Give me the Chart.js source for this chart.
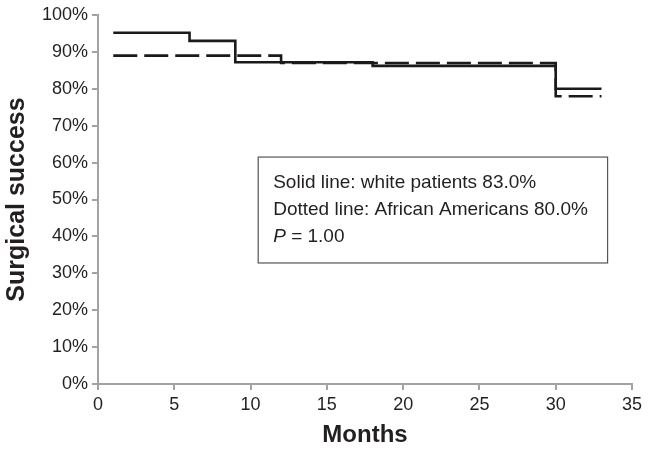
<!DOCTYPE html>
<html>
<head>
<script src="https://cdn.jsdelivr.net/npm/chart.js"></script>
<style>
  body { margin: 0; background: #fff; }
  #wrap { width: 652px; height: 453px; }
</style>
</head>
<body>
<div id="wrap"><canvas id="km" width="652" height="453"></canvas></div>
<script>
// Kaplan-Meier style steps (months, % success)
const solidMonths = [1, 6, 9, 18, 30, 33];
const solidValues = [95.2, 93.0, 87.2, 86.2, 80.0, 80.0];
const dashedMonths = [1, 12, 30, 33];
const dashedValues = [89.0, 87.0, 78.0, 78.0];
const xTicks = [0, 5, 10, 15, 20, 25, 30, 35];
const legendLines = [
  ['Solid line: white patients 83.0%'],
  ['Dotted line: African Americans 80.0%'],
  ['P', ' = 1.00']
];

const axisGrey = '#a3a3a3';
const textColor = '#231f20';
const fontFamily = '"Liberation Sans", Arial, sans-serif';
const toPoints = (xs, ys) => xs.map((x, i) => ({ x: x, y: ys[i] }));

// draws the note box inside the plot
const noteBox = {
  id: 'noteBox',
  afterDatasetsDraw(chart) {
    const ctx = chart.ctx;
    const x = chart.scales.x, y = chart.scales.y;
    const left = x.getPixelForValue(10.5), right = x.getPixelForValue(33.4);
    const top = y.getPixelForValue(61.5), bottom = y.getPixelForValue(32.8);
    ctx.save();
    ctx.strokeStyle = '#555';
    ctx.lineWidth = 1.2;
    ctx.strokeRect(left, top, right - left, bottom - top);
    ctx.fillStyle = textColor;
    ctx.textBaseline = 'middle';
    legendLines.forEach((parts, i) => {
      let tx = left + 15;
      const ty = top + 26 + i * 27;
      parts.forEach((p, j) => {
        ctx.font = (i === 2 && j === 0 ? 'italic ' : '') + '19px ' + fontFamily;
        ctx.fillText(p, tx, ty);
        tx += ctx.measureText(p).width;
      });
    });
    ctx.restore();
  }
};

new Chart(document.getElementById('km'), {
  type: 'line',
  data: {
    datasets: [
      {
        label: 'White patients',
        data: toPoints(solidMonths, solidValues),
        stepped: 'before',
        borderColor: '#1a1a1a',
        borderWidth: 2.6,
        pointRadius: 0,
        fill: false
      },
      {
        label: 'African Americans',
        data: toPoints(dashedMonths, dashedValues),
        stepped: 'before',
        borderColor: '#1a1a1a',
        borderWidth: 2.6,
        borderDash: [24, 7],
        pointRadius: 0,
        fill: false
      }
    ]
  },
  options: {
    responsive: false,
    animation: false,
    layout: { padding: { top: 15, right: 20, left: 0, bottom: 0 } },
    plugins: { legend: { display: false }, tooltip: { enabled: false } },
    scales: {
      x: {
        type: 'linear',
        min: 0,
        max: 35,
        afterBuildTicks: s => { s.ticks = xTicks.map(v => ({ value: v })); },
        afterFit: s => { s.height = 69; },
        border: { color: axisGrey, width: 2 },
        grid: { drawOnChartArea: false, color: axisGrey, tickLength: 6, lineWidth: 2 },
        ticks: {
          color: textColor,
          padding: 4,
          maxRotation: 0,
          font: { family: fontFamily, size: 18 }
        },
        title: {
          display: true,
          text: 'Months',
          color: textColor,
          padding: { top: 0, bottom: 3 },
          font: { family: fontFamily, size: 24, weight: 'bold' }
        }
      },
      y: {
        min: 0,
        max: 100,
        afterFit: s => { s.width = 98; },
        border: { color: axisGrey, width: 2 },
        grid: { drawOnChartArea: false, color: axisGrey, tickLength: 6, lineWidth: 2 },
        ticks: {
          stepSize: 10,
          color: textColor,
          padding: 4,
          callback: v => v + '%',
          font: { family: fontFamily, size: 18 }
        },
        title: {
          display: true,
          text: 'Surgical success',
          color: textColor,
          padding: { top: 2, bottom: 0 },
          font: { family: fontFamily, size: 25, weight: 'bold' }
        }
      }
    }
  },
  plugins: [noteBox]
});
</script>
</body>
</html>
